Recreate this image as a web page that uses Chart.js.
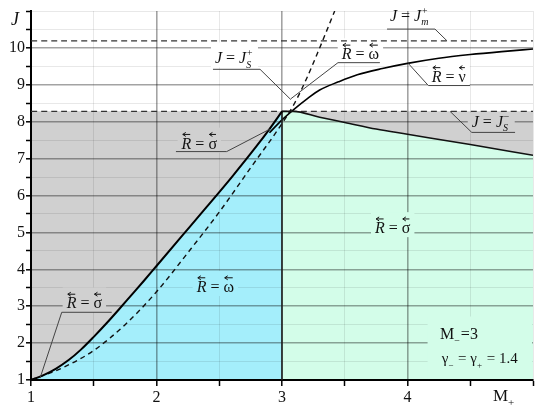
<!DOCTYPE html>
<html><head><meta charset="utf-8">
<script src="https://cdn.jsdelivr.net/npm/chart.js@4/dist/chart.umd.min.js"></script>
<style>
html,body{margin:0;padding:0;background:#fff;}
#pre{position:absolute;left:2px;top:2px;z-index:-1;color:#fff;font-family:serif;font-size:16px;white-space:nowrap;}
#c{position:relative;z-index:1;}
</style>
</head><body>
<div id="pre">J R = σ ω ν γ M 0123456789 − + <i>J R S m</i></div>
<canvas id="c" width="550" height="414"></canvas>
<script>
// ---- data ----
const sigmaX = [1, 1.1, 1.2, 1.3, 1.4, 1.5, 1.6, 1.7, 1.8, 1.9, 2.0, 2.2, 2.4, 2.6, 2.8, 2.9, 3.0];
const sigmaY = [1, 1.13, 1.31, 1.54, 1.83, 2.17, 2.53, 2.91, 3.3, 3.69, 4.09, 4.89, 5.69, 6.5, 7.35, 7.8, 8.28];
const jsPlusX = [1, 1.25, 1.5, 1.75, 2.0, 2.25, 2.5, 2.75, 3.0, 3.1, 3.2, 3.3, 3.42];
const jsPlusY = [1, 1.33, 1.8, 2.5, 3.39, 4.45, 5.55, 6.75, 7.95, 8.5, 9.2, 10.0, 11.0];
const omegaX = [2.9, 3.0, 3.1, 3.2, 3.3, 3.45, 3.6, 3.8, 4.0, 4.25, 4.5, 4.75, 5.0];
const omegaY = [7.7, 8.05, 8.35, 8.62, 8.86, 9.08, 9.27, 9.44, 9.58, 9.72, 9.82, 9.9, 9.97];
const sigmaRX = [3.0, 3.09, 3.3, 3.5, 3.75, 4.0, 4.5, 5.0];
const sigmaRY = [8.28, 8.28, 8.12, 7.98, 7.8, 7.66, 7.38, 7.09];
const JmPlus = 10.19;
const JsMinus = 8.28;
const M3 = 3;
const xTicks = [1, 2, 3, 4];
const yTicks = [1, 2, 3, 4, 5, 6, 7, 8, 9, 10];

const SERIF = 'serif';
Chart.defaults.font.family = SERIF;
const GRAY = '#d0d0d0', CYAN = '#a4eefb', MINT = '#d3fde9';

const pts = (xs, ys) => xs.map((x, i) => ({x, y: ys[i]}));

// ---- annotation texts ----
const notes = [
  {parts:[{t:'J',i:1},{t:' = '},{t:'J',i:1},{sub:'m',sup:'+',i:1}], x:3.86, y:10.73, lead:[[3.837,10.51],[4.219,10.51],[4.315,10.19]]},
  {parts:[{t:'J',i:1},{t:' = '},{t:'J',i:1},{sub:'S',sup:'+',i:1}], x:2.466, y:9.58, bg:'#fff', lead:[[2.45,9.42],[2.825,9.42],[3.07,8.6]]},
  {parts:[{t:'R',i:1,a:1},{t:' = '},{t:'ω',a:1}], x:3.476, y:9.69, bg:'#fff', lead:[[3.78,9.6],[3.446,9.6],[3.07,8.62]]},
  {parts:[{t:'R',i:1,a:1},{t:' = '},{t:'ν',a:1}], x:4.193, y:9.08, bg:'#fff', lead:[[4.498,8.98],[4.166,8.98],[4.006,9.58]]},
  {parts:[{t:'J',i:1},{t:' = '},{t:'J',i:1},{sub:'S',sup:'−',i:1}], x:4.512, y:7.86, bg:GRAY, bt:14, lead:[[4.857,7.71],[4.512,7.71],[4.339,8.28]]},
  {parts:[{t:'R',i:1,a:1},{t:' = '},{t:'σ',a:1}], x:2.2, y:7.27, bg:GRAY, lead:[[2.155,7.19],[2.559,7.19],[2.904,7.8]]},
  {parts:[{t:'R',i:1,a:1},{t:' = '},{t:'σ',a:1}], x:3.741, y:4.98, bg:MINT},
  {parts:[{t:'R',i:1,a:1},{t:' = '},{t:'ω',a:1}], x:2.32, y:3.385, bg:CYAN},
  {parts:[{t:'R',i:1,a:1},{t:' = '},{t:'σ',a:1}], x:1.284, y:2.94, bg:GRAY, lead:[[1.643,2.835],[1.245,2.835],[1.072,1.05]]},
  {parts:[{t:'M'},{sub:'−'},{t:'=' + M3}], x:4.259, y:2.11},
  {parts:[{t:'γ'},{sub:'−'},{t:' = '},{t:'γ'},{sub:'+'},{t:' = 1.4'}], x:4.272, y:1.45, size:15}
];
const boxes = [{x0:4.16, x1:5, y0:1.03, y1:2.72, bg:MINT}];

function arrowAbove(ctx, x, w, ay) {
  const l = x + w * 0.12, r = x + w * 0.88;
  ctx.save();
  ctx.strokeStyle = '#111'; ctx.lineWidth = 1;
  ctx.beginPath();
  ctx.moveTo(r, ay); ctx.lineTo(l, ay);
  ctx.moveTo(l + 3, ay - 2); ctx.lineTo(l, ay); ctx.lineTo(l + 3, ay + 2);
  ctx.stroke();
  ctx.restore();
}

function rich(ctx, x, y, parts, size, draw) {
  let cx = x;
  for (const p of parts) {
    if (p.t !== undefined) {
      ctx.font = (p.i ? 'italic ' : '') + size + 'px ' + SERIF;
      const w = ctx.measureText(p.t).width;
      if (draw) {
        ctx.fillText(p.t, cx, y);
        if (p.a) arrowAbove(ctx, cx, w, y - size * 0.7 - 3);
      }
      cx += w;
    } else {
      const s = Math.round(size * 0.62);
      ctx.font = (p.i ? 'italic ' : '') + s + 'px ' + SERIF;
      let w = 0;
      if (p.sub) { w = Math.max(w, ctx.measureText(p.sub).width); if (draw) ctx.fillText(p.sub, cx, y + size * 0.28); }
      if (p.sup) { w = Math.max(w, ctx.measureText(p.sup).width); if (draw) ctx.fillText(p.sup, cx, y - size * 0.45); }
      cx += w + 1;
    }
  }
  return cx - x;
}

const annot = {
  id: 'annot',
  beforeDatasetsDraw(chart) {
    const ctx = chart.ctx, xs = chart.scales.x, ys = chart.scales.y;
    ctx.save();
    for (const n of notes) {
      if (!n.bg) continue;
      const size = n.size || 16;
      const px = xs.getPixelForValue(n.x), py = ys.getPixelForValue(n.y);
      const w = rich(ctx, px, py, n.parts, size, false);
      const top = n.bt !== undefined ? n.bt : size + 5;
      ctx.fillStyle = n.bg;
      ctx.fillRect(px - 4, py - top, w + 8, top + 4);
    }
    for (const b of boxes) {
      const x0 = xs.getPixelForValue(b.x0), x1 = xs.getPixelForValue(b.x1);
      const y0 = ys.getPixelForValue(b.y0), y1 = ys.getPixelForValue(b.y1);
      ctx.fillStyle = b.bg;
      ctx.fillRect(x0, y1, x1 - x0 - 1, y0 - y1);
    }
    ctx.restore();
  },
  afterDatasetsDraw(chart) {
    const ctx = chart.ctx, xs = chart.scales.x, ys = chart.scales.y, a = chart.chartArea;
    ctx.save();
    ctx.strokeStyle = '#444'; ctx.lineWidth = 1;
    for (const n of notes) {
      if (!n.lead) continue;
      ctx.beginPath();
      n.lead.forEach((p, i) => {
        const X = xs.getPixelForValue(p[0]), Y = ys.getPixelForValue(p[1]);
        if (i === 0) ctx.moveTo(X, Y); else ctx.lineTo(X, Y);
      });
      ctx.stroke();
    }
    ctx.fillStyle = '#111';
    ctx.textBaseline = 'alphabetic';
    ctx.textAlign = 'left';
    for (const n of notes) {
      const size = n.size || 16;
      rich(ctx, xs.getPixelForValue(n.x), ys.getPixelForValue(n.y), n.parts, size, true);
    }
    // axis titles
    rich(ctx, a.left - 20, a.top + 14, [{t:'J', i:1}], 18, true);
    rich(ctx, a.right - 40, a.bottom + 21, [{t:'M'}, {sub:'+'}], 17, true);
    ctx.restore();
  }
};

const isMajor = v => Math.abs(v - Math.round(v)) < 1e-6;
function gridColor(ctx, max) {
  const v = ctx.tick ? ctx.tick.value : 0;
  if (isMajor(v) && v < max) return 'rgba(0,0,0,0.36)';
  return 'rgba(0,0,0,0.09)';
}
function gridWidth(ctx, max) {
  const v = ctx.tick ? ctx.tick.value : 0;
  return (isMajor(v) && v < max) ? 1.6 : 1;
}

document.getElementById('pre').getBoundingClientRect();

const chart = new Chart(document.getElementById('c'), {
  type: 'line',
  data: {
    datasets: [
      {label:'sigma', data: pts(sigmaX, sigmaY), borderColor:'#000', borderWidth:2, fill:'start', backgroundColor:CYAN, cubicInterpolationMode:'monotone'},
      {label:'sigmaR', data: pts(sigmaRX, sigmaRY), borderColor:'#111', borderWidth:1.6, fill:'start', backgroundColor:MINT, cubicInterpolationMode:'monotone'},
      {label:'m3', data: pts([M3, M3], [1, JsMinus]), borderColor:'#222', borderWidth:1.6, fill:false},
      {label:'omega', data: pts(omegaX, omegaY), borderColor:'#000', borderWidth:1.6, fill:false, cubicInterpolationMode:'monotone'},
      {label:'JsPlus', data: pts(jsPlusX, jsPlusY), borderColor:'#111', borderWidth:1.4, borderDash:[5,4], fill:false, cubicInterpolationMode:'monotone'},
      {label:'JmPlus', data: pts([1, 5], [JmPlus, JmPlus]), borderColor:'#333', borderWidth:1.4, borderDash:[6,4], fill:false},
      {label:'JsMinus', data: pts([1, 5], [JsMinus, JsMinus]), borderColor:'#333', borderWidth:1.4, borderDash:[6,4], fill:'start', backgroundColor:GRAY}
    ]
  },
  options: {
    responsive: false,
    animation: false,
    devicePixelRatio: 1,
    layout: {padding: {top: 11, right: 17, left: 0, bottom: 0}},
    elements: {point: {radius: 0}, line: {tension: 0.4}},
    plugins: {
      legend: {display: false},
      tooltip: {enabled: false},
      filler: {drawTime: 'beforeDraw'}
    },
    scales: {
      x: {
        type: 'linear', min: 1, max: 5,
        afterFit(s) { s.height = 34; },
        ticks: {stepSize: 0.5, autoSkip: false, maxRotation: 0, color: '#111', padding: 2,
          font: {family: SERIF, size: 16},
          callback: v => xTicks.includes(v) ? String(v) : ''},
        grid: {color: c => gridColor(c, 5), lineWidth: c => gridWidth(c, 5), tickColor: '#000', tickLength: 6, tickWidth: 1.5},
        border: {color: '#000', width: 2}
      },
      y: {
        type: 'linear', min: 1, max: 11,
        afterFit(s) { s.width = 31; },
        ticks: {stepSize: 0.5, autoSkip: false, color: '#111', padding: 1,
          font: {family: SERIF, size: 16},
          callback: v => yTicks.includes(v) ? String(v) : ''},
        grid: {color: c => gridColor(c, 11), lineWidth: c => gridWidth(c, 11), tickColor: '#000', tickLength: 5, tickWidth: 1.5},
        border: {color: '#000', width: 2}
      }
    }
  },
  plugins: [annot]
});

function redraw() { chart.update(); }
if (document.fonts && document.fonts.ready) document.fonts.ready.then(redraw);
window.addEventListener('load', redraw);
</script>
</body></html>
